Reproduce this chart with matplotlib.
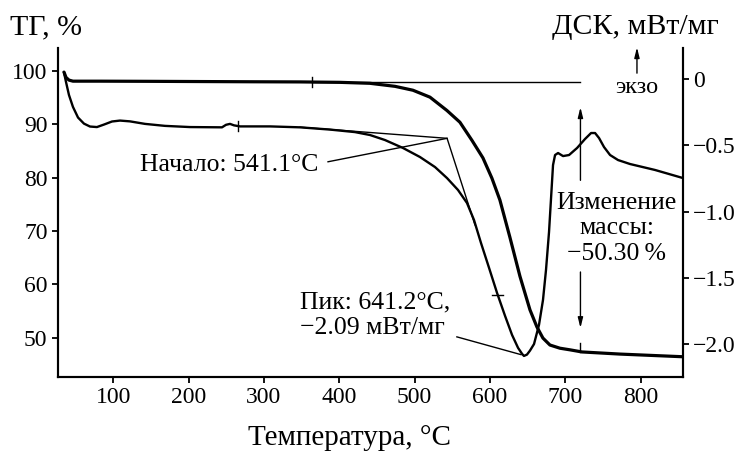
import matplotlib
matplotlib.use("Agg")
import matplotlib.pyplot as plt
from matplotlib import rcParams

rcParams['font.family'] = ['Liberation Serif', 'DejaVu Serif']
rcParams['axes.linewidth'] = 1.5
rcParams['xtick.major.width'] = 1.3
rcParams['ytick.major.width'] = 1.3
rcParams['xtick.major.size'] = 4
rcParams['ytick.major.size'] = 4

# TG curve (left axis), %
tg_temp = [34.6, 37.3, 41.2, 46.5, 82.3, 148.7, 215.0, 281.4, 347.8, 400.9,
           440.7, 473.9, 497.7, 520.3, 542.8, 560.0, 576.0, 590.6, 602.5, 613.1,
           626.4, 639.7, 653.0, 662.2, 670.2, 679.5, 692.8, 706.0, 722.0, 772.5, 856.0]
tg_mass = [99.8, 98.8, 98.3, 98.1, 98.1, 98.07, 98.03, 97.99, 97.96, 97.88,
           97.7, 97.13, 96.4, 95.1, 92.6, 90.4, 87.0, 83.7, 79.9, 75.8,
           68.8, 61.5, 55.2, 52.0, 49.9, 48.6, 48.0, 47.7, 47.3, 46.9, 46.4]

# DSC curve (right axis), mW/mg
dsc_temp = [34.6, 37.2, 41.2, 46.5, 53.2, 61.1, 69.1, 78.3, 87.7, 98.3,
            108.9, 122.2, 142.1, 168.6, 201.8, 244.3, 249.6, 254.9, 260.2, 268.2,
            308.0, 347.8, 387.6, 420.8, 440.7, 460.6, 484.5, 507.0, 527.0, 542.9,
            557.5, 569.4, 578.7, 588.0, 598.7, 609.3, 619.9, 629.2, 637.2, 642.5,
            645.0, 649.0, 653.0, 658.4, 665.0, 670.3, 674.3, 678.3, 681.0, 683.6,
            686.3, 690.3, 696.9, 704.9, 715.5, 726.1, 734.1, 739.4, 744.7, 751.3,
            759.3, 769.9, 785.8, 819.0, 856.1]
dsc_flow = [0.05, -0.02, -0.12, -0.21, -0.29, -0.336, -0.358, -0.362, -0.343, -0.32,
            -0.313, -0.319, -0.338, -0.353, -0.362, -0.364, -0.345, -0.338, -0.349, -0.357,
            -0.357, -0.364, -0.381, -0.4, -0.422, -0.46, -0.52, -0.588, -0.664, -0.747,
            -0.837, -0.935, -1.063, -1.237, -1.425, -1.614, -1.787, -1.931, -2.029, -2.074,
            -2.09, -2.08, -2.05, -2.0, -1.855, -1.667, -1.44, -1.154, -0.897, -0.649,
            -0.573, -0.558, -0.581, -0.573, -0.52, -0.452, -0.407, -0.407, -0.445, -0.513,
            -0.573, -0.611, -0.641, -0.686, -0.747]

x_ticks = [100, 200, 300, 400, 500, 600, 700, 800]
tg_ticks = [50, 60, 70, 80, 90, 100]
dsc_ticks = [0, -0.5, -1.0, -1.5, -2.0]
dsc_tick_labels = ['0', '\u22120.5', '\u22121.0', '\u22121.5', '\u22122.0']

onset_text = 'Начало: 541.1°C'
peak_text = 'Пик: 641.2°C,\n\u22122.09 мВт/мг'
mass_text = 'Изменение\nмассы:\n\u221250.30\u2009%'

# onset construction (DSC units): baseline tangent, vertex, steep tangent
onset_x = [348, 543, 580]
onset_y = [-0.363, -0.447, -1.10]
mass_temp = 720
tg_start_level = 97.9

fig = plt.figure(figsize=(7.48, 4.54), dpi=100)
ax = fig.add_axes([0.0775, 0.1696, 0.8355, 0.7244])
ax2 = ax.twinx()

ax.plot(tg_temp, tg_mass, color='k', lw=2.3, solid_capstyle='round')
ax2.plot(dsc_temp, dsc_flow, color='k', lw=1.7)

# thin construction lines
ax2.plot(onset_x, onset_y, color='k', lw=1.0)
ax2.plot([385, onset_x[1]], [-0.624, onset_y[1]], color='k', lw=1.0)
ax2.plot([556, 641], [-1.946, -2.08], color='k', lw=1.0)
ax.plot([364, mass_temp], [tg_start_level, tg_start_level], color='k', lw=1.0)

# small marks on the curves
ax.plot([364, 364], [97.0, 98.8], color='k', lw=1.0)
ax.plot([mass_temp, mass_temp], [47.2, 48.9], color='k', lw=1.0)
ax2.plot([265.5, 265.5], [-0.317, -0.392], color='k', lw=1.0)
ax2.plot([603, 617], [-1.629, -1.629], color='k', lw=1.0)

arrow = dict(arrowstyle='-|>,head_length=0.6,head_width=0.15', color='k', lw=1.0,
             shrinkA=0, shrinkB=0)
ax.annotate('', xy=(mass_temp, 93.2), xytext=(mass_temp, 79.5), arrowprops=arrow)
ax.annotate('', xy=(mass_temp, 51.8), xytext=(mass_temp, 62.3), arrowprops=arrow)
ax2.annotate('', xy=(795, 0.24), xytext=(795, 0.045), arrowprops=arrow,
             annotation_clip=False)

ax2.text(372, -0.649, onset_text, ha='right', va='center', fontsize=18.5)
ax2.text(348, -1.78, peak_text, ha='left', va='center', fontsize=18.5,
         linespacing=1.2)
ax.text(768, 70.5, mass_text, ha='center', va='center', fontsize=18.5,
        linespacing=1.2)
ax2.text(795, -0.06, 'экзо', ha='center', va='center', fontsize=17.5)

ax.set_xlim(26.6, 856)
ax.set_ylim(42.6, 104.3)
ax2.set_ylim(-2.249, 0.234)
ax.set_xticks(x_ticks)
ax.set_yticks(tg_ticks)
ax2.set_yticks(dsc_ticks)
ax2.set_yticklabels(dsc_tick_labels)
ax.tick_params(labelsize=17, direction='out')
ax2.tick_params(labelsize=17, direction='out')
for a in (ax, ax2):
    a.spines['top'].set_visible(False)

fig.text(10 / 748, 1 - 27 / 454, 'ТГ, %', ha='left', va='center', fontsize=21.5)
fig.text(635 / 748, 1 - 27 / 454, 'ДСК, мВт/мг', ha='center', va='center', fontsize=21.5)
fig.text(350 / 748, 1 - 438 / 454, 'Температура, °C', ha='center', va='center',
         fontsize=21)

plt.savefig('out.png', dpi=100)
plt.close()
